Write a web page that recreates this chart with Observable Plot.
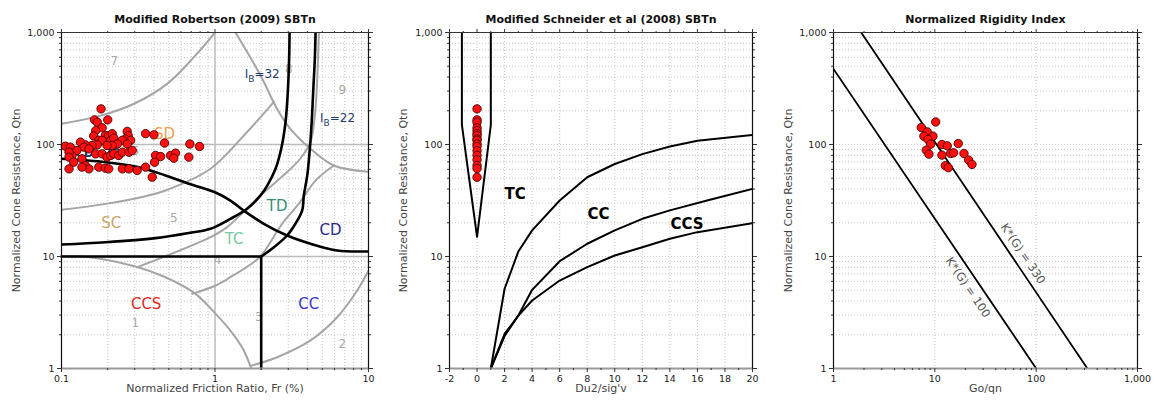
<!DOCTYPE html>
<html><head><meta charset="utf-8">
<script src="https://cdn.jsdelivr.net/npm/d3@7"></script>
<script src="https://cdn.jsdelivr.net/npm/@observablehq/plot@0.6"></script>
<style>
body{margin:0;background:#fff;}
#row{display:flex;width:1156px;height:402px;overflow:hidden;}
#row svg{flex:none;}
</style></head><body><div id="row"></div>
<script>
// ---------------- DATA ----------------
// Panel 1: Modified Robertson (2009) SBTn — CPT points (Fr %, Qtn)
const robFr  = [0.181,0.164,0.171,0.200,0.184,0.167,0.162,0.193,0.203,0.214,0.268,0.272,0.261,0.249,0.282,0.268,0.353,0.400,0.469,0.686,0.793,0.175,0.184,0.209,0.219,0.231,0.214,0.198,0.171,0.158,0.143,0.133,0.140,0.151,0.106,0.114,0.126,0.117,0.112,0.167,0.184,0.198,0.209,0.219,0.236,0.249,0.275,0.289,0.410,0.442,0.513,0.553,0.539,0.675,0.404,0.112,0.120,0.136,0.143,0.151,0.175,0.193,0.203,0.249,0.275,0.311,0.353,0.390,0.112,0.136];
const robQtn = [208,166,158,166,141,133,119,120,120,125,131,120,112,109,109,101,125,122,103,101,96,109,109,109,114,101,98,98,99.3,98,99.3,105,94.7,91.5,96.6,94.7,88.4,79.8,85.4,82.5,82.5,77.1,79.8,82.5,79.8,85.4,85.4,88.4,79.8,78.1,79.8,83.7,75.5,77.1,69.5,77.1,69.5,74.5,64.9,60.6,62.8,61.5,60.6,60.6,60.6,58.6,62.8,51.1,60.6,62.8];

// Robertson 1990 background zone boundaries (grey)
const greyZone7  = [[0.1,153],[0.18,181],[0.297,231],[0.488,348],[0.728,602],[1.0,1000]];
const greyNC     = [[1.36,1000],[1.98,413],[2.54,208],[3.10,138],[4.19,91.5],[5.94,64.9],[10,57]];
const greyZone56 = [[0.1,26.1],[0.194,29.5],[0.37,35.1],[0.476,38.8],[0.935,60.7],[1.54,120],[2.42,240]];
const greyZone45 = [[0.31,8.0],[0.935,14.9],[1.2,18.3],[1.92,33.8],[3.0,58],[3.6,75],[4.19,105],[4.45,170],[4.59,293],[4.69,582],[4.75,1000]];
const greyZone34 = [[0.71,4.64],[1.01,5.51],[1.26,6.53],[1.70,8.48],[2.0,10.2],[2.74,19.6],[3.51,29.5],[4.52,47.6],[5.94,64.9]];
const greyZone1  = [[0.1,10],[0.151,9.86],[0.303,8.14],[0.476,6.53],[0.746,4.64],[1.0,3.12],[1.26,2.18],[1.54,1.45],[1.72,1]];
const greyZone2  = [[1.72,1.06],[2.54,1.26],[4.19,1.78],[6.25,2.87],[8.44,4.97],[10,7.5]];
const zoneNumbers = [
  {n:"7", fr:0.221, qtn:551},{n:"8", fr:3.03, qtn:474},{n:"9", fr:6.74, qtn:308},
  {n:"6", fr:0.303, qtn:87.1},{n:"5", fr:0.539, qtn:22.2},{n:"4", fr:1.04, qtn:9.35},
  {n:"3", fr:1.93, qtn:2.87},{n:"1", fr:0.303, qtn:2.55},{n:"2", fr:6.74, qtn:1.66}
];

// Robertson 2016 modified boundaries (black)
const blackCD70 = [[0.1,74.5],[0.194,69.5],[0.319,62.7],[0.476,52.9],[0.675,44.6],[1.0,37.5],[1.26,31.6],[1.54,25.7],[2.08,19.6],[2.95,15.4],[4.19,13.0],[6.25,11.3],[10,11.1]];
const blackIB32 = [[3.06,1000],[3.04,582],[2.98,293],[2.88,158],[2.70,91.5],[2.48,60.7],[2.19,43.0],[1.98,35.1],[1.62,26.7],[1.26,21.7],[0.935,17.7],[0.675,16.2],[0.41,14.6],[0.194,13.4],[0.1,12.8]];
const blackIB22 = [[4.52,1000],[4.47,582],[4.36,293],[4.26,154],[4.13,85.3],[3.99,52.9],[3.79,35.1],[3.70,25.8],[3.34,19.6],[2.95,15.4],[2.42,12.1],[2,10]];
const blackQ10  = [[0.1,10],[2,10]];
const blackFr2  = [[2,10],[2,1]];
const robLabels = [
  {t:"SD", fr:0.469, qtn:123},{t:"SC", fr:0.211, qtn:19.8},{t:"TD", fr:2.54, qtn:28},
  {t:"TC", fr:1.33, qtn:14.4},{t:"CD", fr:5.65, qtn:17.1},{t:"CCS", fr:0.356, qtn:3.75},
  {t:"CC", fr:4.08, qtn:3.75}
];
const ibLabels = [{t:"IB=32", fr:2.03, qtn:428},{t:"IB=22", fr:6.28, qtn:171}];
const cdLabel  = [{t:"CD=70", fr:0.172, qtn:83}];
const frMajor = [0.1, 1, 10];

// Panel 2: Modified Schneider et al (2008) SBTn
const schDu2 = [0,0,0,0,0,0,0,0,0,0,0,0,0,0,0,0,0];
const schQtn = [208,166,158,141,133,125,120,112,109,101,96,88,80,73,65,61,51];
const schV   = [[-1.1,1000],[-1.1,150],[0,15],[1,150],[1,1000]];
const schTC  = [[1,1],[2,5.15],[3,11.1],[4,17.1],[6,31.6],[8,51],[10,67],[12,82],[14,96],[16,108],[20,122]];
const schCC  = [[1,1],[2,2.04],[3,2.97],[4,5.04],[6,9.08],[8,13],[10,17.1],[12,21.7],[14,25.8],[16.7,31.6],[20,40.2]];
const schCCS = [[1,1],[2,1.95],[3,2.97],[4,4.05],[6,6.1],[8,8.03],[10,10.2],[12,12.1],[14,14.4],[16,16.5],[20,19.8]];
const schLabels = [{t:"TC", du:2.77, qtn:36.3},{t:"CC", du:8.82, qtn:24.1},{t:"CCS", du:15.24, qtn:19.3}];
const duMajor = [-2,0,2,4,6,8,10,12,14,16,18,20];
const duMinor = [-1,1,3,5,7,9,11,13,15,17,19];

// Panel 3: Normalized Rigidity Index
const rigGoQn = [10.2,7.35,8.42,7.80,9.58,8.55,9.08,11.75,13.27,17.04,8.23,8.74,11.75,14.31,15.32,19.39,21.56,23.26,12.68,13.57];
const rigQtn  = [159,141.6,129.6,118.6,118.6,110.8,100.7,100,97.3,102,89.1,82.1,80.4,83.2,84.3,83.2,72.6,66.4,64.7,62.1];
const rigK100 = [[1,473],[100,1]];
const rigK330 = [[1.876,1000],[320,1]];
const rigLabels = [{t:"K*(G) = 100", go:21.2, qtn:5.3},{t:"K*(G) = 330", go:74, qtn:10.6}];
const goMajor = [1,10,100,1000];

const qtnMajor = [1,10,100,1000];

// ---------------- HELPERS ----------------
const FONT = "'DejaVu Sans', Verdana, sans-serif";
const minorOf = (lo, hi) => { const o=[]; for (let d=lo; d<hi*0.999; d*=10) for (let k=2;k<10;k++) o.push(+(d*k).toPrecision(3)); return o; };
const qtnMinor = minorOf(1,1000);
const blank = () => "";
const dotted = {stroke:"#c6c6c6", strokeDasharray:"1,2", strokeWidth:1};

function axes(xMajor, xMinor, xFmt) {
  const o = {label:null, stroke:"#333"};
  return [
    Plot.axisY(qtnMajor, {...o, anchor:"left", tickSize:4, tickPadding:3, tickFormat:d3.format(","), fontSize:9.5, fill:"#222"}),
    Plot.axisY(qtnMinor, {...o, anchor:"left", tickSize:2, tickFormat:blank}),
    Plot.axisY(qtnMajor, {...o, anchor:"right", tickSize:4, tickFormat:blank}),
    Plot.axisY(qtnMinor, {...o, anchor:"right", tickSize:2, tickFormat:blank}),
    Plot.axisX(xMajor, {...o, anchor:"bottom", tickSize:4, tickPadding:3, tickFormat:xFmt, fontSize:9.5, fill:"#222"}),
    Plot.axisX(xMinor, {...o, anchor:"bottom", tickSize:2, tickFormat:blank}),
    Plot.axisX(xMajor, {...o, anchor:"top", tickSize:4, tickFormat:blank}),
    Plot.axisX(xMinor, {...o, anchor:"top", tickSize:2, tickFormat:blank})
  ];
}
function frameLines(xlo, xhi) {
  return [
    Plot.ruleY([1], {stroke:"#999", strokeWidth:2}),
    Plot.ruleY([1000], {stroke:"#333", strokeWidth:1}),
    Plot.ruleX([xlo], {stroke:"#111", strokeWidth:1.2}),
    Plot.ruleX([xhi], {stroke:"#111", strokeWidth:1.2})
  ];
}
function texts(title, xLabel, yLabel, dxY) {
  return [
    Plot.text([title], {text:d=>d, frameAnchor:"top", dy:-17, fontWeight:"bold", fontSize:11, fill:"#111"}),
    Plot.text([yLabel], {text:d=>d, frameAnchor:"left", dx:dxY, rotate:-90, textAnchor:"middle", fontSize:11, fill:"#444"}),
    Plot.text([xLabel], {text:d=>d, frameAnchor:"bottom", dy:23.5, textAnchor:"middle", fontSize:11, fill:"#444"})
  ];
}
const common = {height:402, marginTop:32, marginBottom:34,
  y:{type:"log", domain:[1,1000], label:null},
  style:{fontFamily:FONT, fontSize:"10px", color:"#333", background:"#fff", overflow:"visible"}};

// ---------------- PANEL 1 ----------------
const robPoints = robFr.map((fr,i) => ({fr, qtn: robQtn[i]}));
const frMinor = minorOf(0.1, 10);
const labelColors = {SD:"#f5a04a", SC:"#c9a367", TD:"#3a8f78", TC:"#77cba0", CD:"#2c2c8c", CCS:"#e62626", CC:"#3838c8"};
const grey = {stroke:"#a5a5a5", strokeWidth:2, curve:"catmull-rom", clip:true};
const black = {stroke:"#000", strokeWidth:2.6, curve:"catmull-rom", clip:true};

const p1 = Plot.plot({...common, width:385, marginLeft:61, marginRight:17,
  x:{type:"log", domain:[0.1,10], label:null},
  marks:[
    Plot.ruleX(frMinor, dotted),
    Plot.ruleY(qtnMinor, dotted),
    Plot.ruleX([1], {stroke:"#bbb", strokeWidth:1.5}),
    Plot.ruleY([10,100], {stroke:"#bbb", strokeWidth:1.5}),
    ...[greyZone7, greyNC, greyZone56, greyZone45, greyZone34, greyZone1, greyZone2].map(c => Plot.line(c, grey)),
    Plot.text(zoneNumbers, {x:"fr", y:"qtn", text:"n", fill:"#a8a8a8", fontSize:12}),
    ...[blackCD70, blackIB32, blackIB22].map(c => Plot.line(c, black)),
    ...[blackQ10, blackFr2].map(c => Plot.line(c, {stroke:"#000", strokeWidth:2.6})),
    ...robLabels.map(l => Plot.text([l], {x:"fr", y:"qtn", text:"t", fill:labelColors[l.t], fontSize:15})),
    Plot.text(ibLabels, {x:"fr", y:"qtn", text:"t", fill:"#1d3b6b", fontSize:12}),
    Plot.text(cdLabel, {x:"fr", y:"qtn", text:"t", fill:"#1d3b6b", fontSize:12, fontWeight:"bold"}),
    Plot.dot(robPoints, {x:"fr", y:"qtn", r:4.2, fill:"#ff1010", stroke:"#4a0000", strokeWidth:0.9}),
    ...frameLines(0.1, 10),
    ...axes(frMajor, frMinor, d => String(d)),
    ...texts("Modified Robertson (2009) SBTn", "Normalized Friction Ratio, Fr (%)", "Normalized Cone Resistance, Qtn", -45)
  ]});

// subscript B in I_B labels
const NS = "http://www.w3.org/2000/svg";
p1.querySelectorAll("text").forEach(t => {
  const m = t.textContent.match(/^IB(=\d+)$/);
  if (!m) return;
  t.textContent = "I";
  const s = document.createElementNS(NS, "tspan"); s.setAttribute("dy","4"); s.setAttribute("font-size","9"); s.textContent = "B";
  const r = document.createElementNS(NS, "tspan"); r.setAttribute("dy","-4"); r.textContent = m[1];
  t.append(s, r);
});

// ---------------- PANEL 2 ----------------
const schPoints = schDu2.map((du,i) => ({du, qtn: schQtn[i]}));
const line2 = {stroke:"#000", strokeWidth:2, clip:true};
const p2 = Plot.plot({...common, width:385, marginLeft:64, marginRight:18,
  x:{type:"linear", domain:[-2,20], label:null},
  marks:[
    Plot.ruleX(duMajor.filter(d => d > -2 && d < 20), dotted),
    Plot.ruleY([...qtnMinor, 10, 100], dotted),
    ...[schV, schTC, schCC, schCCS].map(c => Plot.line(c, line2)),
    Plot.text(schLabels, {x:"du", y:"qtn", text:"t", fill:"#000", fontSize:15, fontWeight:"bold"}),
    Plot.dot(schPoints, {x:"du", y:"qtn", r:4.2, fill:"#ff1010", stroke:"#4a0000", strokeWidth:0.9}),
    ...frameLines(-2, 20),
    ...axes(duMajor, duMinor, d => String(d)),
    ...texts("Modified Schneider et al (2008) SBTn", "Du2/sig'v", "Normalized Cone Resistance, Qtn", -46)
  ]});

// ---------------- PANEL 3 ----------------
const rigPoints = rigGoQn.map((go,i) => ({go, qtn: rigQtn[i]}));
const p3 = Plot.plot({...common, width:386, marginLeft:63, marginRight:19,
  x:{type:"log", domain:[1,1000], label:null},
  marks:[
    Plot.ruleX([10,100], dotted),
    Plot.ruleY([...qtnMinor, 10, 100], dotted),
    ...[rigK100, rigK330].map(c => Plot.line(c, {stroke:"#000", strokeWidth:1.8, clip:true})),
    Plot.text(rigLabels, {x:"go", y:"qtn", text:"t", rotate:56, fill:"#555", fontSize:11.5}),
    Plot.dot(rigPoints, {x:"go", y:"qtn", r:4.2, fill:"#ff1010", stroke:"#4a0000", strokeWidth:0.9}),
    ...frameLines(1, 1000),
    ...axes(goMajor, minorOf(1,1000), d3.format(",")),
    ...texts("Normalized Rigidity Index", "Go/qn", "Normalized Cone Resistance, Qtn", -45)
  ]});

const row = document.getElementById("row");
row.append(p1, p2, p3);
</script>
</body></html>
